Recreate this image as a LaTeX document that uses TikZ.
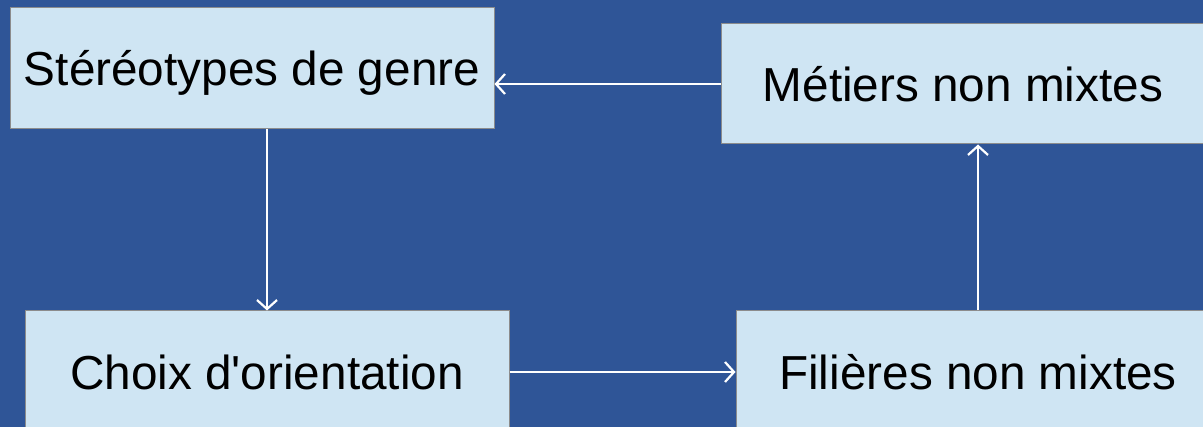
\documentclass[tikz,border=0pt]{standalone}
\usepackage{fontspec}
\setmainfont{Liberation Sans}
\usetikzlibrary{arrows.meta}
\definecolor{bgblue}{HTML}{2F5597}
\definecolor{boxfill}{HTML}{CFE5F3}
\definecolor{boxline}{HTML}{8C8C8C}
\tikzset{
  stepbox/.style={draw=boxline, line width=1pt, fill=boxfill, minimum width=484pt,
    inner sep=0pt, font=\fontsize{47.7}{57}\selectfont, text=black},
  flow/.style={draw=white, line width=2.2pt, -{Straight Barb[length=9pt,width=20pt,line width=2.2pt]}}
}
\begin{document}
\begin{tikzpicture}[x=1pt,y=1pt]
\useasboundingbox (0,0) rectangle (1203,-427);
\fill[bgblue] (0,0) rectangle (1203,-427);
\begin{scope}
\clip (0,0) rectangle (1203,-427);
\node[stepbox, minimum height=121pt] (ster) at (252,-68.5) {\raisebox{-4pt}[\height][\depth]{Stéréotypes de genre}};
\node[stepbox, minimum height=120pt] (met) at (963,-84) {Métiers non mixtes};
\node[stepbox, minimum height=122pt] (choix) at (267,-372) {Choix d\textquotesingle orientation};
\node[stepbox, minimum height=122pt] (fil) at (978,-372) {Filières non mixtes};
\end{scope}
\draw[flow] (met.west) -- (met.west -| ster.east);
\draw[flow] (ster.south -| choix.north) -- (choix.north);
\draw[flow] (choix.east) -- (fil.west);
\draw[flow] (fil.north) -- (fil.north |- met.south);
\end{tikzpicture}
\end{document}
